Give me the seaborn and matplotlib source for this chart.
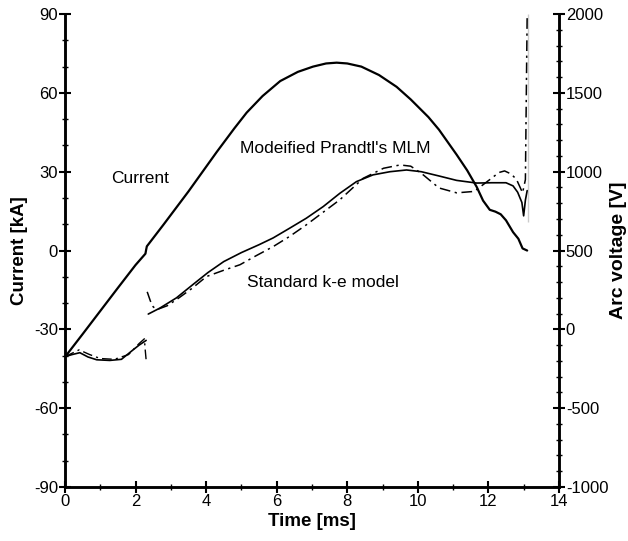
import matplotlib
matplotlib.use('Agg')
import matplotlib.pyplot as plt
from matplotlib.ticker import MultipleLocator
import seaborn as sns

# current [kA] vs time [ms]
t_cur = [0, 0.5, 1.0, 1.5, 2.0, 2.28, 2.3, 2.32, 2.8, 3.5, 4.3, 4.8, 5.15, 5.6, 6.1, 6.6, 7.03, 7.4, 7.7,
         8.0, 8.4, 8.9, 9.4, 9.8, 10.3, 10.6, 11.1, 11.4, 11.67, 11.85, 12.04, 12.2, 12.35, 12.5, 12.7,
         12.85, 12.97, 13.1]
cur = [-40.5, -31.8, -23, -14.2, -5.5, -1.2, 0.3, 1.6, 10, 22.5, 37.5, 46.5, 52.5, 58.8, 64.5, 68, 70, 71.2, 71.5,
       71.2, 70, 66.8, 62.3, 57.5, 50.8, 46, 36.5, 30.5, 24.2, 19, 15.5, 14.8, 13.8, 11.5, 7,
       4.5, 0.8, 0]

# arc voltage [V], early phase (before 2.3 ms)
t_v_early_solid = [0, 0.2, 0.42, 0.65, 0.9, 1.27, 1.6, 1.93, 2.1, 2.3]
v_early_solid = [-173, -160, -148, -175, -193, -197, -190, -130, -100, -70]
t_v_early_dash = [0, 0.4, 0.7, 1.0, 1.4, 1.8, 2.1, 2.25, 2.27, 2.3]
v_early_dash = [-173, -130, -160, -185, -190, -160, -90, -60, -120, -195]

# arc voltage [V], main phase
t_v_solid = [2.36, 2.69, 3.16, 3.63, 4.05, 4.5, 5.0, 5.5, 5.9, 6.37, 6.84, 7.32, 7.79, 8.26, 8.73, 9.21,
             9.68, 10.1, 10.6, 11.1, 11.67, 12.1, 12.5, 12.7, 12.83, 12.95, 13.0, 13.05, 13.1]
v_solid = [97, 135, 200, 285, 360, 430, 487, 537, 580, 642, 705, 779, 863, 937, 980, 1000,
           1011, 1000, 973, 945, 928, 930, 930, 910, 870, 805, 720, 820, 880]
t_v_dash = [2.33, 2.42, 2.5, 2.6, 2.9, 3.2, 3.6, 4.01, 4.5, 4.96, 5.4, 5.9, 6.37, 6.84, 7.3, 7.79, 8.45,
            9.03, 9.5, 9.8, 10.1, 10.6, 11.1, 11.6, 12.04, 12.3, 12.46, 12.65, 12.8, 12.97, 13.05, 13.1]
v_dash = [238, 180, 143, 125, 150, 195, 260, 335, 375, 410, 465, 525, 590, 663, 740, 822, 958,
          1022, 1043, 1035, 990, 897, 866, 875, 950, 995, 1005, 985, 950, 866, 950, 2000]
t_spike = [13.12, 13.12]
v_spike = [680, 2000]

sns.set_style('ticks')
plt.rcParams['font.family'] = ['Liberation Sans', 'DejaVu Sans']
plt.rcParams['axes.unicode_minus'] = False
for key in ['text.color', 'axes.labelcolor', 'xtick.color', 'ytick.color', 'axes.edgecolor']:
    plt.rcParams[key] = 'black'

fig = plt.figure(figsize=(6.28, 5.41), dpi=100)
ax = fig.add_axes([0.1035, 0.0998, 0.7865, 0.8742])
ax2 = ax.twinx()

dashdot = (0, (7, 3, 1.5, 3))
sns.lineplot(x=t_cur, y=cur, ax=ax, color='black', linewidth=1.6, sort=False)
sns.lineplot(x=t_v_early_solid, y=v_early_solid, ax=ax2, color='black', linewidth=1.2, sort=False)
sns.lineplot(x=t_v_early_dash, y=v_early_dash, ax=ax2, color='black', linewidth=1.0, sort=False,
             linestyle=dashdot)
sns.lineplot(x=t_v_solid, y=v_solid, ax=ax2, color='black', linewidth=1.2, sort=False)
sns.lineplot(x=t_v_dash, y=v_dash, ax=ax2, color='black', linewidth=1.1, sort=False,
             linestyle=dashdot)
sns.lineplot(x=t_spike, y=v_spike, ax=ax2, color='black', linewidth=1.0, sort=False, linestyle=':')

ax.set_xlim(0, 14)
ax.set_ylim(-90, 90)
ax2.set_ylim(-1000, 2000)
ax.xaxis.set_major_locator(MultipleLocator(2))
ax.xaxis.set_minor_locator(MultipleLocator(1))
ax.yaxis.set_major_locator(MultipleLocator(30))
ax.yaxis.set_minor_locator(MultipleLocator(10))
ax2.yaxis.set_major_locator(MultipleLocator(500))
ax2.yaxis.set_minor_locator(MultipleLocator(100))

for a in (ax, ax2):
    a.spines['top'].set_visible(False)
    for s in a.spines.values():
        s.set_linewidth(1.8)
    a.tick_params(which='major', direction='inout', length=8, width=1.5, labelsize=12, pad=1)
    a.tick_params(which='minor', direction='inout', length=5, width=1.0)

ax.set_xlabel('Time [ms]', fontsize=13.5, fontweight='bold', labelpad=3)
ax.set_ylabel('Current [kA]', fontsize=13.5, fontweight='bold', labelpad=4)
ax2.set_ylabel('Arc voltage [V]', fontsize=14, fontweight='bold')
ax2.yaxis.set_label_coords(1.104, 0.5)

ax.text(2.12, 27.6, 'Current', ha='center', va='center', fontsize=12.5)
ax.text(7.65, 39, "Modeified Prandtl's MLM", ha='center', va='center', fontsize=12.5)
ax.text(7.3, -12, 'Standard k-e model', ha='center', va='center', fontsize=12.5)

fig.savefig('out.png', dpi=100)
